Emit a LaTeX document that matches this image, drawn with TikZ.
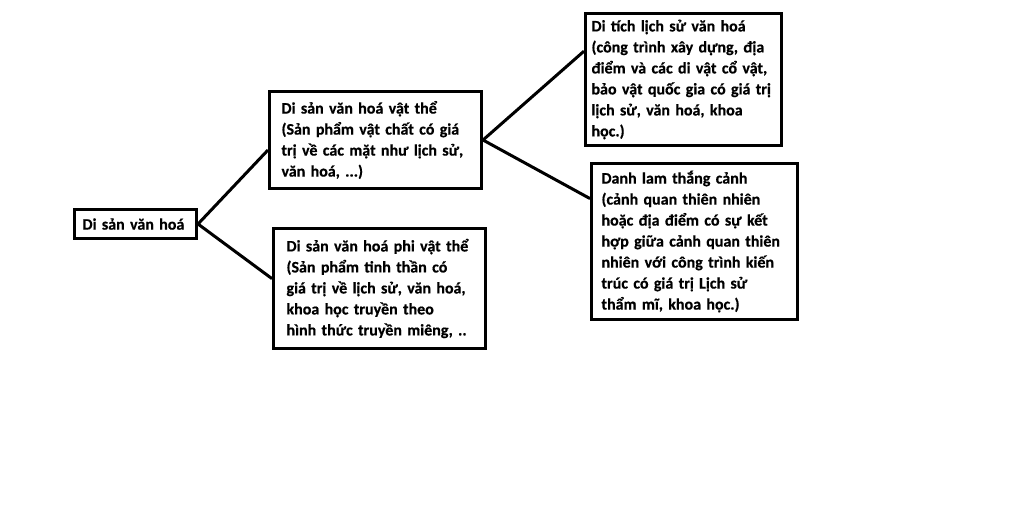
\documentclass[tikz,border=0pt]{standalone}
\usepackage{fontspec}
\setmainfont{Carlito}[BoldFeatures={FakeBold=0.5}]
\usepackage{tikz}
\usetikzlibrary{positioning}
\usetikzlibrary{calc}

\newlength{\unitpx}
\setlength{\unitpx}{0.75pt}

\tikzset{
	heritage box/.style={draw, line width=3\unitpx, anchor=north west, align=left,
		inner ysep=0pt, font=\fontsize{12pt}{15.75pt}\selectfont\bfseries},
	branch line/.style={line width=3\unitpx},
}

\begin{document}
\begin{tikzpicture}[x=0.75pt, y=-0.75pt]
	
	% canvas
	\useasboundingbox[fill=white] (0,0) rectangle (1024,508);
	
	% ---------------------
	% Box corners
	\coordinate (Root)       at (73,208);
	\coordinate (Tangible)   at (268,90);
	\coordinate (Intangible) at (272,227);
	\coordinate (Relic)      at (584,12);
	\coordinate (Landscape)  at (590,162);
	
	% ---------------------
	% Boxes
	\node[heritage box, inner xsep=8\unitpx, text width=106\unitpx, minimum height=29\unitpx] (root) at (Root) {Di sản văn hoá};
	
	\node[heritage box, inner xsep=12\unitpx, text width=188\unitpx, minimum height=97\unitpx] (tangible) at (Tangible)
		{Di sản văn hoá vật thể\\(Sản phẩm vật chất có giá\\trị về các mặt như lịch sử,\\văn hoá, ...)};
	
	\node[heritage box, inner xsep=13\unitpx, text width=186\unitpx, minimum height=120\unitpx] (intangible) at (Intangible)
		{Di sản văn hoá phi vật thể\\(Sản phẩm tinh thần có\\giá trị về lịch sử, văn hoá,\\khoa học truyền theo\\hình thức truyền miêng, ..};
	
	\node[heritage box, inner xsep=6\unitpx, text width=184\unitpx, minimum height=132\unitpx] (relic) at (Relic)
		{Di tích lịch sử văn hoá\\(công trình xây dựng, địa\\điểm và các di vật cổ vật,\\bảo vật quốc gia có giá trị\\lịch sử, văn hoá, khoa\\học.)};
	
	\node[heritage box, inner xsep=10\unitpx, text width=186\unitpx, minimum height=156\unitpx] (landscape) at (Landscape)
		{Danh lam thắng cảnh\\(cảnh quan thiên nhiên\\hoặc địa điểm có sự kết\\hợp giữa cảnh quan thiên\\nhiên với công trình kiến\\trúc có giá trị Lịch sử\\thẩm mĩ, khoa học.)};
	
	% ---------------------
	% Branches
	\draw[branch line] (root.east) -- ($(tangible.north west)!0.6!(tangible.south west)$);
	\draw[branch line] (root.east) -- ($(intangible.north west)!0.42!(intangible.south west)$);
	
	\draw[branch line] (tangible.east) -- ($(relic.north west)!0.29!(relic.south west)$);
	\draw[branch line] (tangible.east) -- ($(landscape.north west)!0.23!(landscape.south west)$);
	
\end{tikzpicture}
\end{document}
